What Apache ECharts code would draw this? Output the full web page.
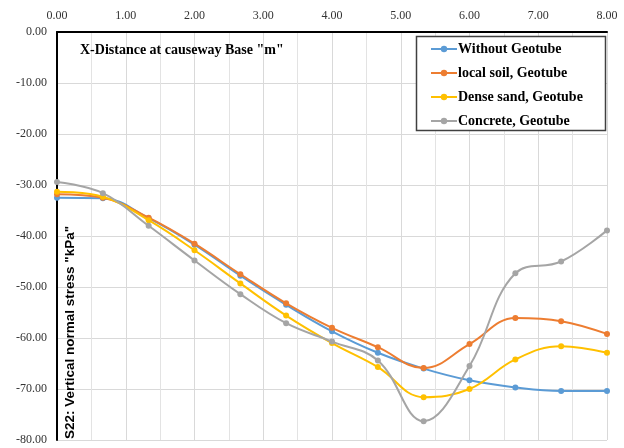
<!DOCTYPE html>
<html><head><meta charset="utf-8">
<script src="https://cdn.jsdelivr.net/npm/echarts@6/dist/echarts.min.js"></script>
<style>html,body{margin:0;padding:0;background:#fff}#c{width:624px;height:448px}</style>
</head><body><div id="c"></div>
<script>
const xValues = [0, 0.667, 1.333, 2, 2.667, 3.333, 4, 4.667, 5.333, 6, 6.667, 7.333, 8];
const withoutGeotube = [-32.5, -32.6, -36.5, -41.7, -47.8, -53.5, -58.7, -62.9, -66.0, -68.3, -69.7, -70.4, -70.4];
const localSoil = [-31.8, -32.5, -36.4, -41.5, -47.5, -53.2, -58.0, -61.8, -65.9, -61.2, -56.1, -56.7, -59.2];
const denseSand = [-31.3, -32.3, -36.9, -42.8, -49.3, -55.6, -61.0, -65.7, -71.6, -70.0, -64.2, -61.6, -62.9];
const concrete = [-29.4, -31.6, -38.0, -44.8, -51.4, -57.1, -60.7, -64.4, -76.3, -65.5, -47.3, -45.0, -38.9];
const seriesNames = ['Without Geotube', 'local soil, Geotube', 'Dense sand, Geotube', 'Concrete, Geotube'];
const seriesColors = ['#5B9BD5', '#ED7D31', '#FFC000', '#A5A5A5'];
const xTitle = 'X-Distance at causeway Base "m"';
const yTitle = 'S22: Vertical normal stress "kPa"';

const allData = [withoutGeotube, localSoil, denseSand, concrete];
const chart = echarts.init(document.getElementById('c'), null, {renderer: 'canvas'});
const serif = '"Liberation Serif", "DejaVu Serif", serif';
chart.setOption({
  animation: false,
  backgroundColor: '#fff',
  grid: {left: 57, right: 17, top: 32, bottom: 8, containLabel: false},
  xAxis: {
    type: 'value', position: 'top', min: 0, max: 8, interval: 1,
    axisLine: {show: true, onZero: false, lineStyle: {color: '#000', width: 2}},
    axisTick: {show: false},
    axisLabel: {margin: 10, color: '#333', fontFamily: serif, fontSize: 12, formatter: v => v.toFixed(2)},
    splitLine: {show: true, lineStyle: {color: '#d9d9d9', width: 1}},
    minorTick: {show: false, splitNumber: 2},
    minorSplitLine: {show: true, lineStyle: {color: '#e3e3e3', width: 1}}
  },
  yAxis: {
    type: 'value', min: -80, max: 0, interval: 10,
    axisLine: {show: true, onZero: false, lineStyle: {color: '#000', width: 2}},
    axisTick: {show: false},
    axisLabel: {margin: 10, color: '#333', fontFamily: serif, fontSize: 12, formatter: v => v.toFixed(2)},
    splitLine: {show: true, lineStyle: {color: '#d9d9d9', width: 1}}
  },
  legend: {
    orient: 'vertical', left: 426, top: 40, z: 10,
    itemWidth: 26, itemHeight: 8, itemGap: 10,
    padding: [2, 4, 2, 4],
    textStyle: {fontFamily: serif, fontWeight: 'bold', fontSize: 14, color: '#000', padding: [0, 0, 0, -4]},
    data: seriesNames
  },
  graphic: [
    {type: 'rect', z: 5, shape: {x: 416.5, y: 36.5, width: 189, height: 94}, style: {fill: '#fff', stroke: '#404040', lineWidth: 1.5}},
    {type: 'text', z: 6, x: 80, y: 50, style: {text: xTitle, fontFamily: serif, fontWeight: 'bold', fontSize: 14, fill: '#000', textVerticalAlign: 'middle'}},
    {type: 'text', z: 6, x: 70, y: 439, rotation: Math.PI / 2, style: {text: yTitle, fontFamily: '"Liberation Sans", Arial, sans-serif', fontWeight: 'bold', fontSize: 13.5, fill: '#000', textVerticalAlign: 'middle', textAlign: 'left'}}
  ],
  series: allData.map((d, i) => ({
    name: seriesNames[i], type: 'line', smooth: 0.4,
    data: d.map((v, j) => [xValues[j], v]),
    symbol: 'circle', symbolSize: 6,
    lineStyle: {color: seriesColors[i], width: 2},
    itemStyle: {color: seriesColors[i]},
    z: 2 + i
  }))
});
</script></body></html>
